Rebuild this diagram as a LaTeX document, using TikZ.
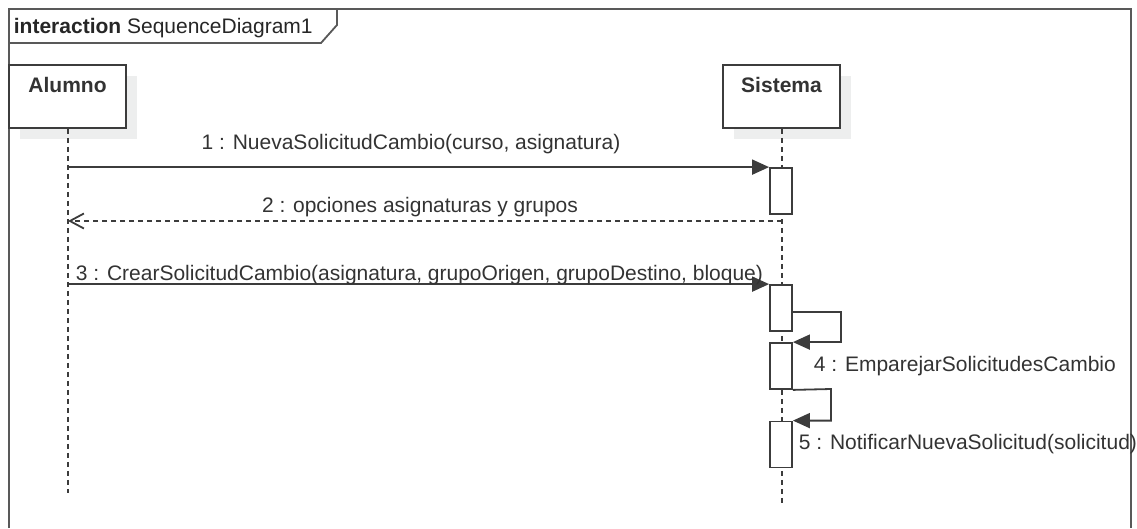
\documentclass[tikz,border=0pt]{standalone}
\usepackage{fontspec}
\setmainfont{Liberation Sans}
\usetikzlibrary{arrows.meta}
\definecolor{umlline}{HTML}{3C3C3C}
\definecolor{umltext}{HTML}{333333}
\definecolor{umlshadow}{HTML}{EDEEEE}

\begin{document}
\begin{tikzpicture}[x=1pt,y=-1pt,line width=1.8pt,
  font=\fontsize{21}{25}\selectfont,
  actor box/.style={draw=umlline,fill=white,minimum width=117pt,minimum height=63pt,inner sep=0pt},
  act box/.style={draw=umlline,fill=white,minimum width=22pt,minimum height=46pt,inner sep=0pt},
  lifeline/.style={draw=umlline,dash pattern=on 5pt off 4pt},
  call/.style={draw=umlline,-{Triangle[length=17pt,width=15pt]}},
  reply/.style={draw=umlline,dash pattern=on 5pt off 4pt,-{Straight Barb[length=14pt,width=15pt]}},
  msg/.style={text=umltext,inner sep=0pt}]

            \useasboundingbox (0,0) rectangle (1137,528);

            % frame
            \draw[umlline!85] (9,528) -- (9,9) -- (1131,9) -- (1131,528);
            \draw[umlline!85] (9,43) -- (321,43) -- (337,25) -- (337,9);
            \node[msg,anchor=base west,text=black!85] (title) at (13,33) {\textbf{interaction} SequenceDiagram1};

            % actors
            \fill[umlshadow] (20,76) rectangle (137,139);
            \fill[umlshadow] (734,76) rectangle (851,139);
            \node[actor box] (alumno) at (67.5,96.5) {};
            \node[actor box] (sistema) at (781.5,96.5) {};
            \node[msg,anchor=base,font=\fontsize{21}{25}\selectfont\bfseries] (alumnoname) at (67.5,92) {Alumno};
            \node[msg,anchor=base,font=\fontsize{21}{25}\selectfont\bfseries] (sistemaname) at (781.5,92) {Sistema};

            \coordinate (alumno end) at (68,493);
            \coordinate (sistema end) at (782,503);
            \draw[lifeline] (alumno.south -| alumno end) -- (alumno end);
            \draw[lifeline] (sistema.south -| sistema end) -- (sistema end);

            % activations
            \node[act box] (act1) at (781,191) {};
            \node[act box] (act2) at (781,308) {};
            \node[act box] (act3) at (781,366) {};
            \node[act box] (act4) at (781,444.5) {};

            \coordinate (loop4) at (841,312);
            \coordinate (loop5) at (831,389);
            \coordinate (reply2) at (782,221);

            % messages
            \draw[call] (act1.north west -| alumno end) -- (act1.north west);
            \draw[reply] (reply2) -- (reply2 -| alumno end);
            \draw[call] (act2.north west -| alumno end) -- (act2.north west);
            \draw[call] (act2.east |- loop4) -- (loop4) -- (loop4 |- act3.north) -- (act3.north east);
            \draw[call] (act3.south east) -- (loop5) -- (loop5 |- act4.north) -- (act4.north east);

            \node[msg,anchor=base] (m1) at (411,149) {1 : NuevaSolicitudCambio(curso, asignatura)};
            \node[msg,anchor=base] (m2) at (420,212) {2 : opciones asignaturas y grupos};
            \node[msg,anchor=base west] (m3) at (75,280) {3 : CrearSolicitudCambio(asignatura, grupoOrigen, grupoDestino, bloque)};
            \node[msg,anchor=base west] (m4) at (813,371) {4 : EmparejarSolicitudesCambio};
            \node[msg,anchor=base west] (m5) at (798,449) {5 : NotificarNuevaSolicitud(solicitud)};

        \end{tikzpicture}
\end{document}
